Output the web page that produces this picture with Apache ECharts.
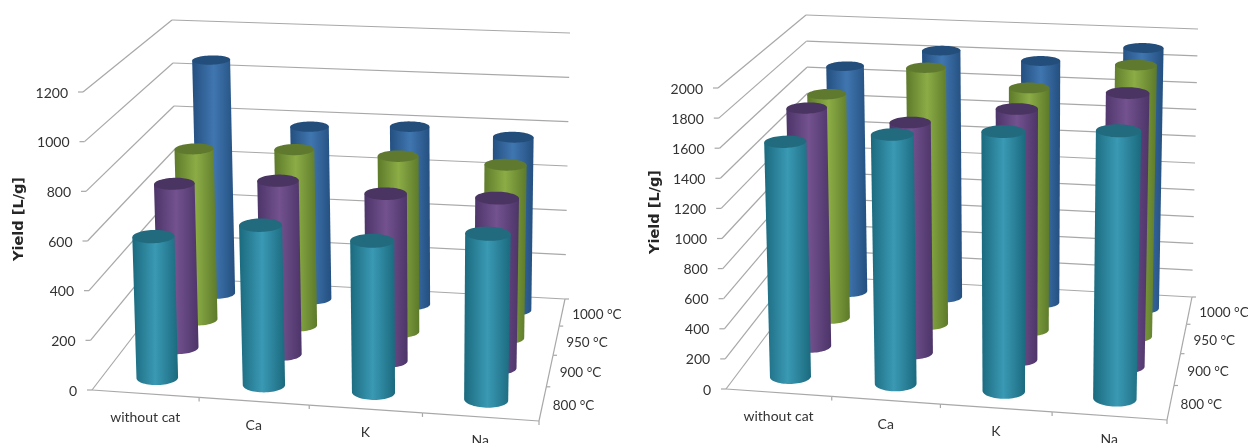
<!DOCTYPE html>
<html><head><meta charset="utf-8">
<style>html,body{margin:0;padding:0;background:#fff}#c{width:1248px;height:443px}</style>
<script src="https://cdn.jsdelivr.net/npm/echarts@6/dist/echarts.min.js"></script>
</head><body><div id="c"></div>
<script>
// ---- data ----
const categories = ['without cat', 'Ca', 'K', 'Na'];
const temperatures = ['800 °C', '900 °C', '950 °C', '1000 °C'];
const yieldLeft800  = [577, 648, 610, 664];
const yieldLeft900  = [694, 729, 697, 702];
const yieldLeft950  = [749, 766, 758, 742];
const yieldLeft1000 = [1061, 776, 795, 767];
const yieldRight800  = [1584, 1669, 1725, 1768];
const yieldRight900  = [1665, 1598, 1726, 1870];
const yieldRight950  = [1620, 1842, 1728, 1923];
const yieldRight1000 = [1689, 1834, 1786, 1911];
const ticksLeft  = [0, 200, 400, 600, 800, 1000, 1200];
const ticksRight = [0, 200, 400, 600, 800, 1000, 1200, 1400, 1600, 1800, 2000];
const axisTitle = 'Yield [L/g]';

// ---- look ----
const FONT = 'Lato, "Open Sans", sans-serif';
const TEXT = '#333333', LINE = '#a8a8a8';
const palette = [
  {edge:'#1b6a7e', mid:'#3a99b4', cap:'#226b7e'},
  {edge:'#4c3468', mid:'#73528f', cap:'#4a3462'},
  {edge:'#5d7a2a', mid:'#8cac46', cap:'#5f7a2e'},
  {edge:'#244f80', mid:'#4076b0', cap:'#234e7b'}
];
// perspective box of each plot: floor and ceiling quads (front-left, front-right, back-right, back-left)
const boxes = [
  {floor:[[92,390],[539,421],[565,299],[178,278]], ceil:[[83,92],[546,114],[570,33],[172,20]]},
  {floor:[[726,389],[1167,420],[1192,297],[811,276]], ceil:[[718,88],[1174,110],[1198,29],[806,15]]}
];
const R_U = 0.048, R_V = 0.057, U_SHIFT = 0.002, CAP_SCALE = 0.2;

function homography(q){
  const [p0,p1,p2,p3]=q;
  const dx1=p1[0]-p2[0],dx2=p3[0]-p2[0],sx=p0[0]-p1[0]+p2[0]-p3[0];
  const dy1=p1[1]-p2[1],dy2=p3[1]-p2[1],sy=p0[1]-p1[1]+p2[1]-p3[1];
  const den=dx1*dy2-dx2*dy1;
  const g=(sx*dy2-dx2*sy)/den,h=(dx1*sy-sx*dy1)/den;
  const a=p1[0]-p0[0]+g*p1[0],b=p3[0]-p0[0]+h*p3[0],c=p0[0];
  const d=p1[1]-p0[1]+g*p1[1],e=p3[1]-p0[1]+h*p3[1],f=p0[1];
  return (u,v)=>{const w=g*u+h*v+1;return [(a*u+b*v+c)/w,(d*u+e*v+f)/w];};
}
function projector(box){
  const F=homography(box.floor),C=homography(box.ceil);
  return (u,v,t)=>{const A=F(u,v),B=C(u,v);return [A[0]+(B[0]-A[0])*t,A[1]+(B[1]-A[1])*t];};
}
const lineEl=(a,b)=>({type:'line',shape:{x1:a[0],y1:a[1],x2:b[0],y2:b[1]},style:{stroke:LINE,lineWidth:1.2}});
const textEl=(s,x,y,align,size)=>({type:'text',style:{text:s,x,y,align,verticalAlign:'middle',fill:TEXT,font:size+'px '+FONT}});

function cylinder(P,u,v,t,col){
  const ring=(tt)=>{const r=[];const rv=R_V*(1+CAP_SCALE*tt);for(let i=0;i<64;i++){const a=i/64*2*Math.PI;
    r.push(P(u+R_U*Math.cos(a),v+rv*Math.sin(a),tt));}return r;};
  const base=ring(0),top=ring(t);
  const ext=(r)=>{let L=0,R=0;r.forEach((p,i)=>{if(p[0]<r[L][0])L=i;if(p[0]>r[R][0])R=i;});return [L,R];};
  const [bL,bR]=ext(base),[tL,tR]=ext(top);
  let arcA=[],arcB=[];
  for(let i=bR;;i=(i+1)%64){arcA.push(base[i]);if(i===bL)break;}
  for(let i=bR;;i=(i+63)%64){arcB.push(base[i]);if(i===bL)break;}
  const meanY=a=>a.reduce((s,p)=>s+p[1],0)/a.length;
  const arc=meanY(arcA)>meanY(arcB)?arcA:arcB;
  const pts=[top[tL],top[tR]].concat(arc);
  return {type:'group',children:[
    {type:'polygon',shape:{points:pts},style:{fill:{type:'linear',x:0,y:0,x2:1,y2:0,colorStops:[
      {offset:0,color:col.edge},{offset:0.5,color:col.mid},{offset:1,color:col.edge}]}}},
    {type:'polygon',shape:{points:top},style:{fill:col.cap}}
  ]};
}

const panels=[
  {ticks:ticksLeft,max:1200,box:boxes[0],nameGap:65,grid:{left:92,top:72,width:447,height:294},
   values:[yieldLeft800,yieldLeft900,yieldLeft950,yieldLeft1000]},
  {ticks:ticksRight,max:2000,box:boxes[1],nameGap:63,grid:{left:726,top:65,width:441,height:294},
   values:[yieldRight800,yieldRight900,yieldRight950,yieldRight1000]}
];

const grid=[],xAxis=[],yAxis=[],series=[];
panels.forEach((pn,ci)=>{
  const P=projector(pn.box);
  const norm=(params,api,cat,val)=>{
    const c=params.coordSys,pt=api.coord([cat,val]);
    return {u:(pt[0]-c.x)/c.width,t:(c.y+c.height-pt[1])/c.height,band:api.size([1,0])[0]/c.width};
  };
  grid.push(pn.grid);
  xAxis.push({gridIndex:ci,type:'category',data:categories,show:false});
  yAxis.push({gridIndex:ci,type:'value',min:0,max:pn.max,name:axisTitle,nameLocation:'middle',nameGap:pn.nameGap,
    nameTextStyle:{color:'#262626',fontSize:14.5,fontWeight:'bold',fontFamily:'"DejaVu Sans"'},
    axisLine:{show:false},axisTick:{show:false},axisLabel:{show:false},splitLine:{show:false}});
  const base={type:'custom',xAxisIndex:ci,yAxisIndex:ci,coordinateSystem:'cartesian2d',silent:true,clip:false,animation:false};
  series.push(Object.assign({},base,{name:'walls',encode:{x:0,y:1},z:1,data:pn.ticks.map(v=>[0,v]),
    renderItem(params,api){
      const val=api.value(1),t=norm(params,api,0,val).t;
      const a=P(0,0,t),b=P(0,1,t),c=P(1,1,t);
      return {type:'group',children:[lineEl(a,b),lineEl(b,c),lineEl([a[0]-5,a[1]],a),
        textEl(String(val),a[0]-15,a[1]+1,'right',14)]};
    }}));
  series.push(Object.assign({},base,{name:'category axis',encode:{x:0,y:1},z:1,data:categories.map((c,i)=>[i,0]),
    renderItem(params,api){
      const i=api.value(0),n=norm(params,api,i,0);
      const l=n.u-n.band/2,r=n.u+n.band/2;
      const a=P(l,0,0),b=P(r,0,0),m=P(n.u,0,0);
      return {type:'group',children:[lineEl(a,b),lineEl(b,[b[0],b[1]+4]),
        textEl(categories[i],m[0],m[1]+24,'center',14)]};
    }}));
  series.push(Object.assign({},base,{name:'depth axis',encode:{x:0,y:1},z:1,data:temperatures.map((c,i)=>[0,0]),
    renderItem(params,api){
      const d=params.dataIndex,N=temperatures.length;
      const a=P(1,d/N,0),b=P(1,(d+1)/N,0),m=P(1,(d+.5)/N,0);
      return {type:'group',children:[lineEl(a,b),lineEl(b,[b[0]+4,b[1]]),
        textEl(temperatures[d],m[0]+10,m[1]+2,'left',13.5)]};
    }}));
  for(let d=temperatures.length-1;d>=0;d--){
    const v=(d+.5)/temperatures.length,col=palette[d];
    series.push(Object.assign({},base,{name:temperatures[d],encode:{x:0,y:1},z:2+temperatures.length-d,
      data:pn.values[d].map((y,i)=>[i,y]),
      renderItem(params,api){
        const n=norm(params,api,api.value(0),api.value(1));
        return cylinder(P,n.u+U_SHIFT,v,n.t,col);
      }}));
  }
});
const chart=echarts.init(document.getElementById('c'));
chart.setOption({animation:false,backgroundColor:'#fff',tooltip:{show:false},grid,xAxis,yAxis,series});
</script></body></html>
